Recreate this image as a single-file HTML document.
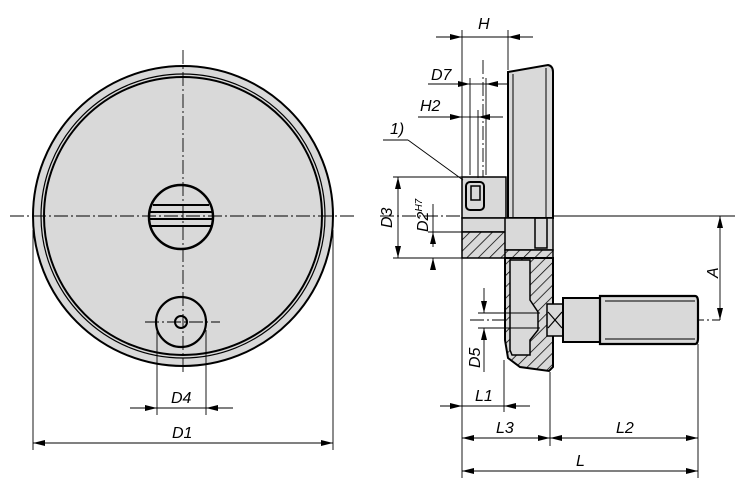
<!DOCTYPE html>
<html><head><meta charset="utf-8"><style>
html,body{margin:0;padding:0;background:#fff;}
svg{display:block;}
text{font-family:"Liberation Sans",sans-serif;font-style:italic;font-size:16px;fill:#000;}
</style></head><body>
<svg width="750" height="491" viewBox="0 0 750 491" xmlns="http://www.w3.org/2000/svg">
<defs>
<pattern id="h" width="8" height="8" patternUnits="userSpaceOnUse" patternTransform="rotate(45)">
<rect width="8" height="8" fill="#d9d9d9"/><line x1="0" y1="0" x2="0" y2="8" stroke="#000" stroke-width="1.5"/></pattern>
<marker id="a" markerWidth="12" markerHeight="6" refX="12" refY="3" orient="auto-start-reverse" markerUnits="userSpaceOnUse"><path d="M0,0 L12,3 L0,6z" fill="#000"/></marker>
</defs>
<g stroke="#000" fill="none">
<circle cx="183" cy="216" r="150" fill="#d9d9d9" stroke-width="2"/>
<circle cx="183" cy="216" r="142" stroke-width="1.2"/>
<circle cx="183" cy="216" r="139" stroke-width="2"/>
<circle cx="181" cy="217" r="32" stroke-width="2.5"/>
<g stroke-width="2"><line x1="153" y1="205" x2="209" y2="205"/><line x1="150" y1="212" x2="212" y2="212"/><line x1="149" y1="219" x2="213" y2="219"/><line x1="151" y1="226" x2="211" y2="226"/></g>
<circle cx="181" cy="322" r="25" stroke-width="2.2"/>
<circle cx="181" cy="322" r="6" stroke-width="2"/>
<g stroke-width="0.9" stroke-dasharray="14,3,2,3">
<line x1="10" y1="216" x2="355" y2="216"/><line x1="183" y1="50" x2="183" y2="375"/>
<line x1="145" y1="322" x2="220" y2="322"/>
<line x1="380" y1="216" x2="600" y2="216"/>
<line x1="470" y1="320" x2="720" y2="320"/>
<line x1="483" y1="60" x2="483" y2="215"/>
</g>
<g stroke-width="0.9">
<line x1="157" y1="330" x2="157" y2="415"/><line x1="206" y1="330" x2="206" y2="415"/>
<line x1="130" y1="408" x2="157" y2="408" marker-end="url(#a)"/><line x1="233" y1="408" x2="206" y2="408" marker-end="url(#a)"/><line x1="157" y1="408" x2="206" y2="408"/>
<line x1="33" y1="230" x2="33" y2="450"/><line x1="333" y1="230" x2="333" y2="450"/>
<line x1="33" y1="443" x2="333" y2="443" marker-start="url(#a)" marker-end="url(#a)"/>
</g>
<path d="M508,72 L548,65 Q553,66 553,72 L553,218 L508,218 Z" fill="#d9d9d9" stroke-width="2"/>
<line x1="513" y1="74" x2="513" y2="218" stroke-width="1"/><line x1="546" y1="68" x2="546" y2="218" stroke-width="1"/>
<rect x="462" y="177" width="44" height="41" fill="#d9d9d9" stroke-width="1.5"/>
<rect x="466" y="182" width="18" height="28" rx="4" fill="#d9d9d9" stroke-width="2"/>
<rect x="471" y="186" width="9" height="14" stroke-width="1.5"/>
<rect x="462" y="218" width="44" height="14" fill="#d9d9d9" stroke-width="1.5"/>
<rect x="462" y="232" width="44" height="26" fill="url(#h)" stroke-width="1.5"/>
<rect x="505" y="218" width="48" height="32" fill="#d9d9d9" stroke-width="1.5"/>
<rect x="535" y="218" width="12" height="30" stroke-width="1.5"/>
<rect x="505" y="250" width="48" height="8" fill="url(#h)" stroke-width="1.5"/>
<path d="M505,258 L553,258 L553,367 L549,371 L520,367 L508,358 L505,340 Z" fill="url(#h)" stroke-width="2"/>
<path d="M510,260 L530,260 L530,300 L538,312 L538,330 L530,340 L530,355 L512,355 L510,350 Z" fill="#d9d9d9" stroke-width="1.5"/>
<rect x="547" y="304" width="16" height="32" fill="#d9d9d9" stroke-width="1.5"/>
<line x1="548" y1="312" x2="562" y2="328" stroke-width="1.2"/><line x1="562" y1="312" x2="548" y2="328" stroke-width="1.2"/>
<rect x="563" y="298" width="37" height="44" fill="#d9d9d9" stroke-width="2"/>
<path d="M600,296 L695,296 Q698,296 698,302 L698,338 Q698,344 695,344 L600,344 Z" fill="#d9d9d9" stroke-width="2.2"/>
<line x1="605" y1="301" x2="695" y2="301" stroke-width="1"/><line x1="605" y1="339" x2="695" y2="339" stroke-width="1"/>
<g stroke-width="0.9">
<line x1="462" y1="30" x2="462" y2="177"/><line x1="508" y1="30" x2="508" y2="70"/>
<line x1="436" y1="37" x2="462" y2="37" marker-end="url(#a)"/><line x1="533" y1="37" x2="508" y2="37" marker-end="url(#a)"/><line x1="462" y1="37" x2="508" y2="37"/>
<line x1="470" y1="78" x2="470" y2="175"/><line x1="486" y1="78" x2="486" y2="175"/>
<line x1="428" y1="84" x2="470" y2="84" marker-end="url(#a)"/><line x1="508" y1="84" x2="486" y2="84" marker-end="url(#a)"/><line x1="470" y1="84" x2="486" y2="84"/>
<line x1="418" y1="117" x2="462" y2="117" marker-end="url(#a)"/><line x1="503" y1="117" x2="478" y2="117" marker-end="url(#a)"/><line x1="462" y1="117" x2="478" y2="117"/>
<line x1="478" y1="110" x2="478" y2="178"/>
<line x1="383" y1="140" x2="408" y2="140"/><line x1="408" y1="140" x2="463" y2="180"/>
<line x1="393" y1="177" x2="462" y2="177"/><line x1="393" y1="258" x2="462" y2="258"/>
<line x1="398" y1="177" x2="398" y2="258" marker-start="url(#a)" marker-end="url(#a)"/>
<line x1="433" y1="204" x2="433" y2="232" /><line x1="428" y1="232" x2="462" y2="232"/>
<line x1="433" y1="270" x2="433" y2="258" marker-end="url(#a)"/><line x1="433" y1="232" x2="433" y2="247" marker-start="url(#a)"/>
<line x1="553" y1="216" x2="735" y2="216"/>
<line x1="720" y1="216" x2="720" y2="320" marker-start="url(#a)" marker-end="url(#a)"/>
<line x1="478" y1="313" x2="540" y2="313"/><line x1="478" y1="328" x2="540" y2="328"/>
<line x1="484" y1="288" x2="484" y2="313" marker-end="url(#a)"/><line x1="484" y1="372" x2="484" y2="328" marker-end="url(#a)"/>
<line x1="462" y1="258" x2="462" y2="478"/><line x1="504" y1="360" x2="504" y2="412"/>
<line x1="550" y1="372" x2="550" y2="446"/><line x1="698" y1="344" x2="698" y2="478"/>
<line x1="440" y1="406" x2="462" y2="406" marker-end="url(#a)"/><line x1="530" y1="406" x2="504" y2="406" marker-end="url(#a)"/><line x1="462" y1="406" x2="504" y2="406"/>
<line x1="462" y1="438" x2="550" y2="438" marker-start="url(#a)" marker-end="url(#a)"/>
<line x1="550" y1="438" x2="698" y2="438" marker-start="url(#a)" marker-end="url(#a)"/>
<line x1="462" y1="471" x2="698" y2="471" marker-start="url(#a)" marker-end="url(#a)"/>
</g>
</g>
<text x="171" y="403">D4</text>
<text x="172" y="438">D1</text>
<text x="478" y="29">H</text>
<text x="431" y="80">D7</text>
<text x="420" y="111">H2</text>
<text x="390" y="134">1)</text>
<text x="392" y="228" transform="rotate(-90 392 228)">D3</text>
<text x="428" y="232" transform="rotate(-90 428 232)">D2<tspan font-size="10" dy="-6">H7</tspan></text>
<text x="718" y="278" transform="rotate(-90 718 278)">A</text>
<text x="480" y="368" transform="rotate(-90 480 368)">D5</text>
<text x="475" y="401">L1</text>
<text x="496" y="433">L3</text>
<text x="616" y="433">L2</text>
<text x="576" y="466">L</text>
</svg>
</body></html>
